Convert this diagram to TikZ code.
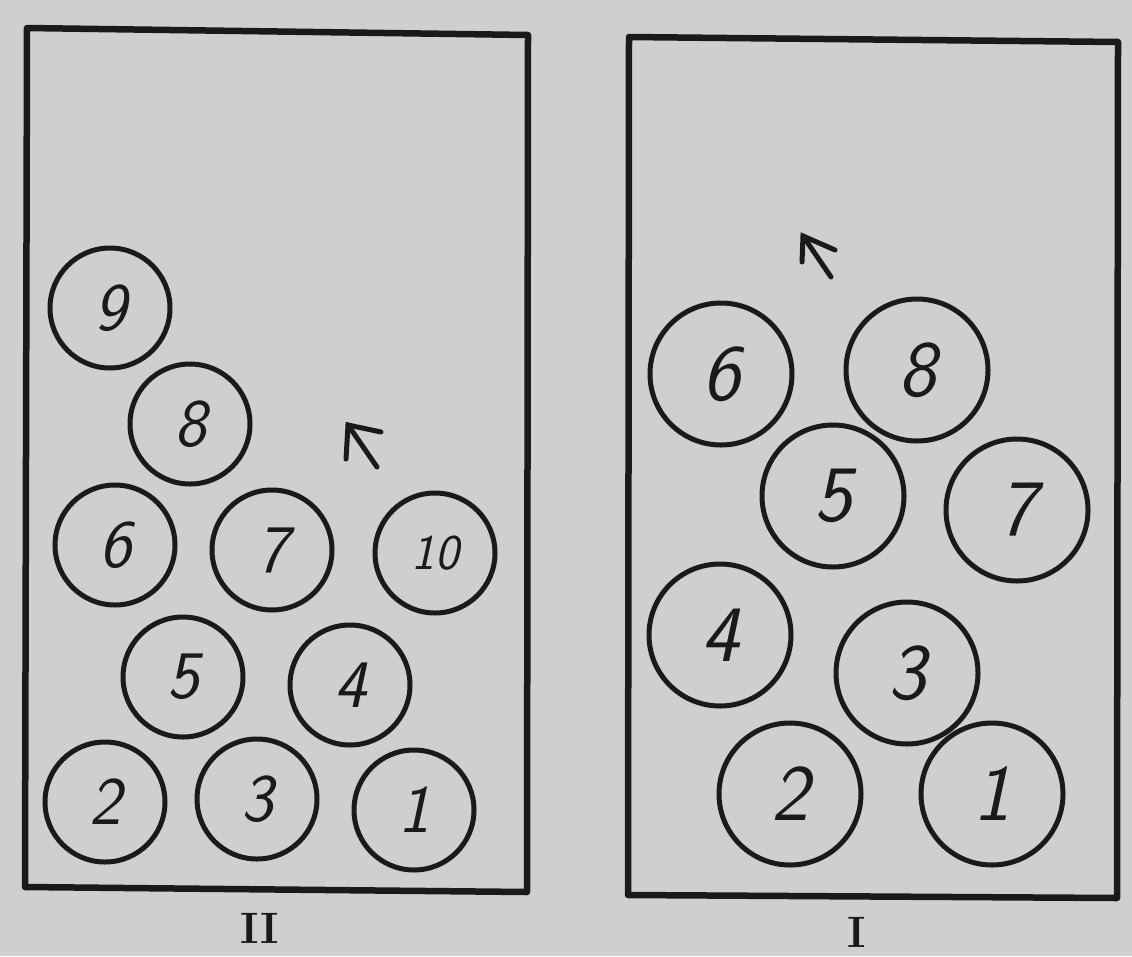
\documentclass[tikz,border=0pt]{standalone}
\usepackage{fontspec}
\definecolor{paper}{HTML}{CFCFCF}
\definecolor{ink}{HTML}{1A1A1A}
\tikzset{
  ball/.style={circle, draw=ink, line width=5pt, inner sep=0pt, text=ink},
  lball/.style={ball, minimum size=120pt, font=\fontsize{68}{68}\selectfont\sffamily\itshape},
  rball/.style={ball, minimum size=142pt, font=\fontsize{80}{80}\selectfont\sffamily\itshape},
  frame/.style={draw=ink, line width=6.5pt, line join=round},
  pen/.style={draw=ink, line width=5pt, line cap=round},
  caption/.style={text=ink, font=\fontsize{44}{44}\selectfont\bfseries}
}
\begin{document}
\begin{tikzpicture}[x=1pt,y=-1pt]
\fill[paper] (0,0) rectangle (1132,956);
\useasboundingbox (0,0) rectangle (1132,956);
% frames
\draw[frame] (27,28) -- (528,35) -- (527,892) -- (25,887) -- cycle;
\draw[frame] (629,37) -- (1118,42) -- (1117,898) -- (628,895) -- cycle;
% left diagram (II)
\node[lball] (L9) at (110,308) {9};
\node[lball] (L8) at (190,424) {8};
\node[lball] (L6) at (115,545) {6};
\node[lball] (L7) at (272,550) {7};
\node[lball, font=\fontsize{50}{50}\selectfont\sffamily\itshape] (L10) at (435,553) {10};
\node[lball] (L5) at (183,677) {5};
\node[lball] (L4) at (350,685) {4};
\node[lball] (L2) at (105,802) {2};
\node[lball] (L3) at (257,799) {3};
\node[lball] (L1) at (414,810) {1};
% right diagram (I)
\node[rball] (R6) at (721,374) {6};
\node[rball] (R8) at (917,370) {8};
\node[rball] (R5) at (833,496) {5};
\node[rball] (R7) at (1017,510) {7};
\node[rball] (R4) at (720,635) {4};
\node[rball] (R3) at (907,673) {3};
\node[rball] (R2) at (790,794) {2};
\node[rball] (R1) at (992,794) {1};
% arrows
\coordinate (LAtip) at (348,425);
\coordinate (LAh) at (381,432);
\coordinate (LAv) at (346,459);
\coordinate (LAtail) at (377,467);
\draw[pen] (LAh) -- (LAtip) -- (LAv);
\draw[pen] (LAtip) -- (LAtail);
\coordinate (RAtip) at (803,236);
\coordinate (RAh) at (835,250);
\coordinate (RAv) at (802,262);
\coordinate (RAtail) at (831,277);
\draw[pen] (RAh) -- (RAtip) -- (RAv);
\draw[pen] (RAtip) -- (RAtail);
% captions
\node[caption] (capII) at (260,928) {II};
\node[caption] (capI) at (857,932) {I};
\end{tikzpicture}
\end{document}
